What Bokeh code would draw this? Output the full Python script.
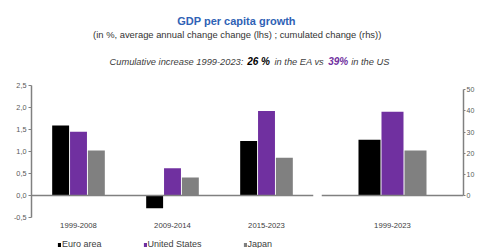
from bokeh.plotting import figure
from bokeh.models import (Range1d, FactorRange, FixedTicker, Span, Legend,
                          LegendItem, ColumnDataSource)
from bokeh.layouts import column, row
from bokeh.transform import dodge
from bokeh.core.properties import value
from bokeh.embed import file_html
from bokeh.resources import INLINE

# ---------------- data ----------------
periods = ["1999-2008", "2009-2014", "2015-2023"]
euro_area = [1.59, -0.29, 1.24]
united_states = [1.45, 0.62, 1.92]
japan = [1.02, 0.41, 0.86]

cum_period = ["1999-2023"]
cum_euro_area = [26.4]
cum_united_states = [39.6]
cum_japan = [21.3]

series_names = ["Euro area", "United States", "Japan"]
series_colors = ["#000000", "#7030A0", "#808080"]

left_ticks = [-0.5, 0.0, 0.5, 1.0, 1.5, 2.0, 2.5]
left_tick_labels = ["-0,5", "0,0", "0,5", "1,0", "1,5", "2,0", "2,5"]
right_ticks = [0, 10, 20, 30, 40, 50]

title_text = "GDP per capita growth"
subtitle_text = "(in %, average annual change change (lhs) ; cumulated change (rhs))"
note_parts = ["Cumulative increase 1999-2023:", "26 %", "in the EA vs", "39%", "in the US"]

FONT = value("Liberation Sans")
GRAY = "#808080"
TXT = "#404040"

# ---------------- header ----------------
H_HEAD = 79
h = figure(width=477, height=H_HEAD, x_range=Range1d(0, 477), y_range=Range1d(H_HEAD, 0),
           x_axis_type=None, y_axis_type=None, min_border=0,
           output_backend="svg", toolbar_location=None)
h.grid.visible = False
h.outline_line_color = None
h.text(x=[236], y=[20.5], text=[title_text], text_font=FONT, text_font_style="bold",
       text_font_size="11px", text_color="#2F62B5", text_align="center", text_baseline="middle")
h.text(x=[236.7], y=[34], text=[subtitle_text], text_font=FONT,
       text_font_size="9.4px", text_color="#333333", text_align="center", text_baseline="middle")
note_x = [109, 246.7, 274, 327.7, 350.7]
note_style = ["italic", "bold italic", "italic", "bold italic", "italic"]
note_color = [TXT, "#000000", TXT, "#7030A0", TXT]
note_size = ["9.3px", "10px", "9.3px", "10px", "9.3px"]
for nx, txt, st, col, sz in zip(note_x, note_parts, note_style, note_color, note_size):
    h.text(x=[nx], y=[61], text=[txt], text_font=FONT, text_font_style=st,
           text_font_size=sz, text_color=col, text_align="left", text_baseline="middle")

# ---------------- left chart ----------------
FIG_H = 152
src = ColumnDataSource(dict(period=periods, ea=euro_area, us=united_states, jp=japan))
p = figure(width=317, height=FIG_H, x_range=FactorRange(factors=periods, range_padding=0),
           y_range=Range1d(-0.5, 2.5), min_border_left=31, min_border_right=4,
           min_border_top=6, min_border_bottom=14,
           output_backend="svg", toolbar_location=None)
for off, col, c in zip([-0.19, 0.0, 0.19], ["ea", "us", "jp"], series_colors):
    p.vbar(x=dodge("period", off, range=p.x_range), top=col, width=0.18,
           source=src, fill_color=c, line_color=None)

p.grid.visible = False
p.outline_line_color = None
p.add_layout(Span(location=0, dimension="width", line_color=GRAY, line_width=1.5))

ya = p.yaxis[0]
ya.ticker = FixedTicker(ticks=left_ticks)
ya.major_label_overrides = {t: l for t, l in zip(left_ticks, left_tick_labels)}
ya.bounds = (-0.5, 2.5)
ya.axis_line_color = GRAY
ya.axis_line_width = 1.5
ya.major_tick_line_color = GRAY
ya.major_tick_out = 3
ya.major_tick_in = 0
ya.minor_tick_line_color = None
ya.major_label_standoff = 2
ya.major_label_text_font = "Liberation Sans"
ya.major_label_text_font_size = "7.3px"
ya.major_label_text_color = "#595959"

xa = p.xaxis[0]
xa.axis_line_color = None
xa.major_tick_line_color = None
xa.minor_tick_line_color = None
xa.major_tick_out = 0
xa.major_label_standoff = 5
xa.major_label_text_font = "Liberation Sans"
xa.major_label_text_font_size = "7.7px"
xa.major_label_text_color = TXT

# ---------------- right chart ----------------
src2 = ColumnDataSource(dict(period=cum_period, ea=cum_euro_area, us=cum_united_states, jp=cum_japan))
q = figure(width=160, height=FIG_H, x_range=FactorRange(factors=cum_period, range_padding=0),
           y_range=Range1d(-10.4, 52.0), y_axis_location="right",
           min_border_left=4, min_border_right=11, min_border_top=6, min_border_bottom=14,
           output_backend="svg", toolbar_location=None)
for off, col, c in zip([-0.162, 0.0, 0.162], ["ea", "us", "jp"], series_colors):
    q.vbar(x=dodge("period", off, range=q.x_range), top=col, width=0.155,
           source=src2, fill_color=c, line_color=None)
q.grid.visible = False
q.outline_line_color = None
q.add_layout(Span(location=0, dimension="width", line_color=GRAY, line_width=1.5))

ry = q.yaxis[0]
ry.ticker = FixedTicker(ticks=right_ticks)
ry.bounds = (0, 50)
ry.axis_line_color = GRAY
ry.axis_line_width = 1.5
ry.major_tick_line_color = GRAY
ry.major_tick_out = 2
ry.major_tick_in = 0
ry.minor_tick_line_color = None
ry.major_label_standoff = 1
ry.major_label_text_font = "Liberation Sans"
ry.major_label_text_font_size = "7px"
ry.major_label_text_color = "#595959"

rx = q.xaxis[0]
rx.axis_line_color = None
rx.major_tick_line_color = None
rx.minor_tick_line_color = None
rx.major_tick_out = 0
rx.major_label_standoff = 5
rx.major_label_text_font = "Liberation Sans"
rx.major_label_text_font_size = "7.7px"
rx.major_label_text_color = TXT

# ---------------- legend strip ----------------
# The series are drawn here too, but outside this strip's visible y range,
# so that the legend has renderers with data to draw its swatches from.
LEG_H = 248 - H_HEAD - FIG_H
lg = figure(width=477, height=LEG_H, x_range=FactorRange(factors=periods),
            y_range=Range1d(100, 101),
            x_axis_type=None, y_axis_type=None, min_border=0,
            output_backend="svg", toolbar_location=None)
lg.grid.visible = False
lg.outline_line_color = None
leg_renderers = [lg.vbar(x="period", top=col, width=0.1, source=src,
                         fill_color=c, line_color=None)
                 for col, c in zip(["ea", "us", "jp"], series_colors)]
legend = Legend(items=[LegendItem(label=n, renderers=[r]) for n, r in zip(series_names, leg_renderers)],
                orientation="horizontal", location=(57, -1), padding=0, margin=0,
                spacing=41, glyph_width=4, glyph_height=5, label_standoff=1,
                label_height=9, label_text_font="Liberation Sans",
                label_text_font_size="9px", label_text_color=TXT,
                border_line_color=None, background_fill_alpha=0)
lg.add_layout(legend, "center")

layout = column(h, row(p, q), lg)
open("out.html", "w").write(file_html(layout, INLINE))
